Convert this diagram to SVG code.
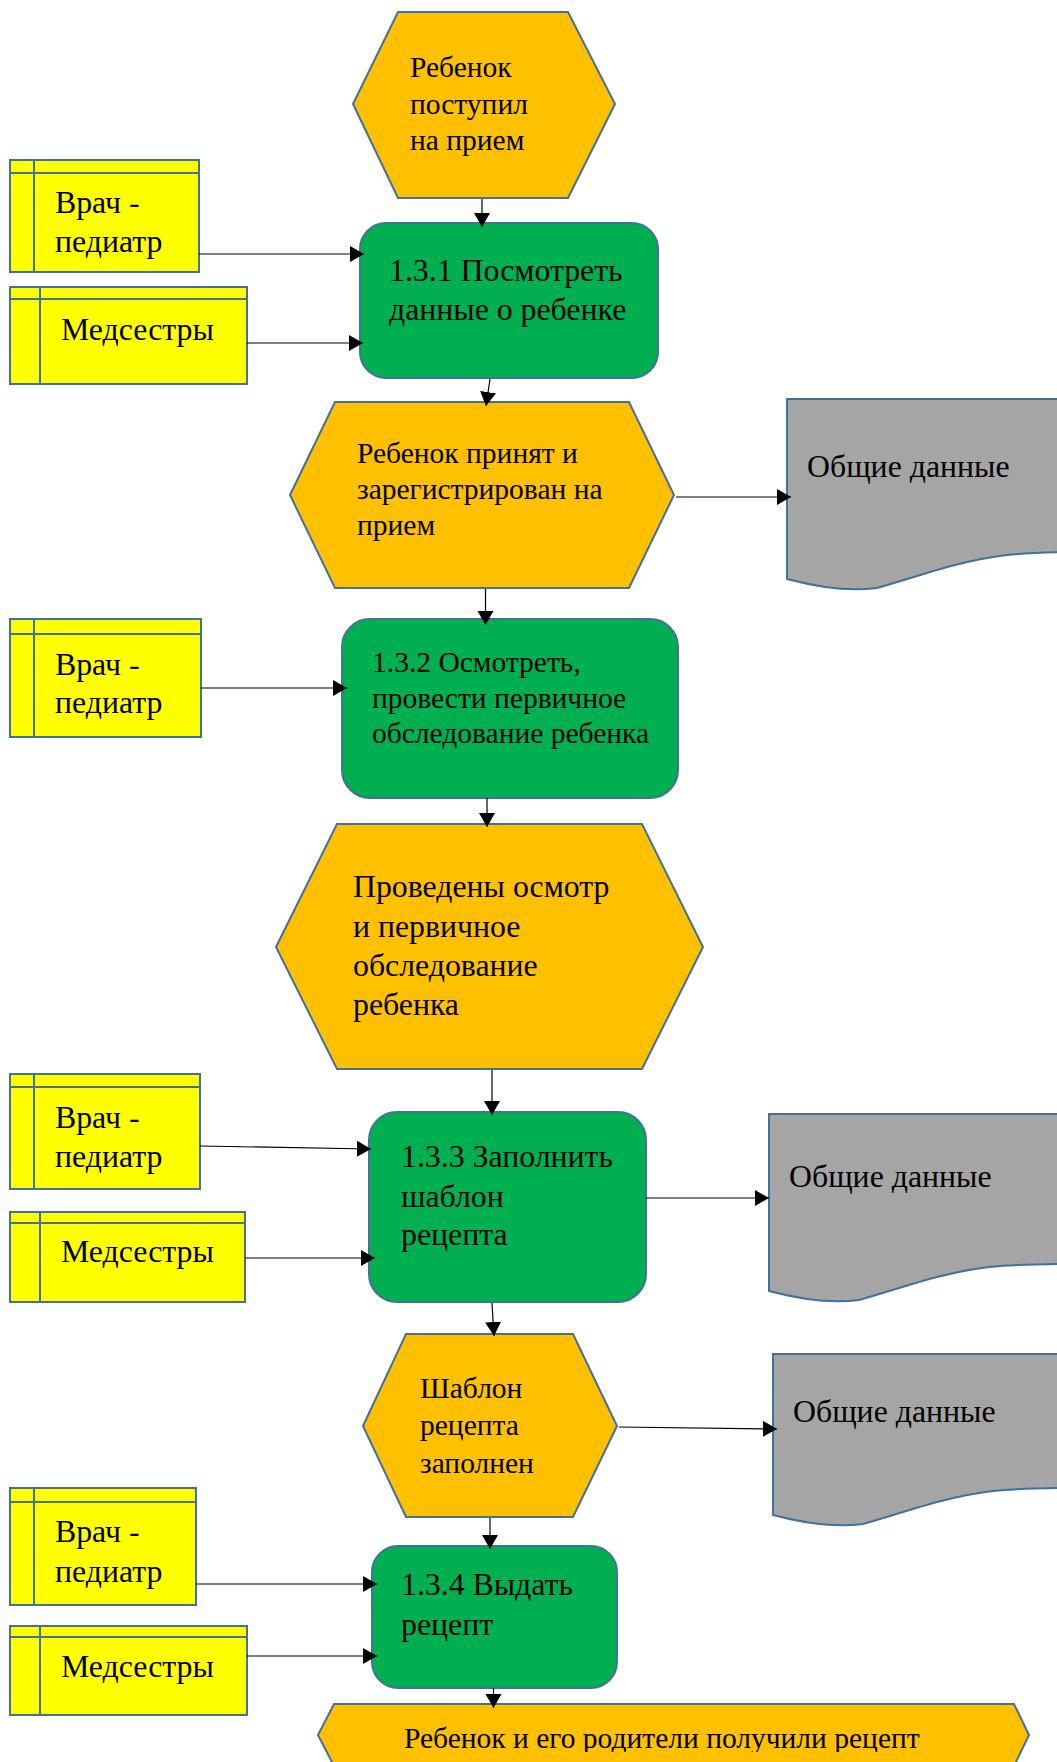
<svg xmlns="http://www.w3.org/2000/svg" width="1057" height="1762" viewBox="0 0 1057 1762">
<style>
.s{stroke:#41719C;stroke-width:2}
.ev{fill:#FFC000}
.fn{fill:#00B050}
.ac{fill:#FFFF00}
.dc{fill:#A5A5A5}
.ln{fill:none;stroke:#41719C;stroke-width:2}
text{font-family:"Liberation Serif","Times New Roman",serif;fill:#000}
.sm{font-size:29.5px}
.lg{font-size:31.8px}
.cn line{stroke:#000;stroke-width:1.2;marker-end:url(#ah)}
</style>
<defs>
<marker id="ah" markerUnits="userSpaceOnUse" markerWidth="16" markerHeight="18" refX="14" refY="8" orient="auto">
<path d="M0,0 L14,8 L0,16 Z" fill="#000"/>
</marker>
<clipPath id="c5"><rect x="300" y="1700" width="757" height="52"/></clipPath>
</defs>

<g id="ev1">
<polygon class="ev s" points="353,104 398,12 568,12 615,104 568,198 398,198"/>
<text class="sm" x="410" y="77">Ребенок</text>
<text class="sm" x="410" y="114">поступил</text>
<text class="sm" x="410" y="150">на прием</text>
</g>

<g id="actor1">
<rect class="ac s" x="10" y="160" width="189" height="112"/>
<path class="ln" d="M10,173 H199 M34,160 V272"/>
<text class="lg" x="55" y="213">Врач -</text>
<text class="lg" x="55" y="252">педиатр</text>
</g>

<g id="actor2">
<rect class="ac s" x="10" y="287" width="237" height="97"/>
<path class="ln" d="M10,299 H247 M40,287 V384"/>
<text class="lg" x="61" y="340">Медсестры</text>
</g>

<g id="fn1">
<rect class="fn s" x="360" y="223" width="298" height="155" rx="26"/>
<text class="lg" x="389" y="281">1.3.1 Посмотреть</text>
<text class="lg" x="389" y="320">данные о ребенке</text>
</g>

<g id="ev2">
<polygon class="ev s" points="290,495 335,402 629,402 674,495 629,588 335,588"/>
<text class="sm" x="357" y="463">Ребенок принят и</text>
<text class="sm" x="357" y="499">зарегистрирован на</text>
<text class="sm" x="357" y="535">прием</text>
</g>

<g id="doc1">
<path class="dc s" transform="translate(787,579)" d="M0,0 L0,-180 L320,-180 L320,-27 L300,-27 C280,-27 250,-27 220,-24 C170,-18 130,-2 90,9 C60,13 30,8 0,0 Z"/>
<text class="lg" x="807" y="477">Общие данные</text>
</g>

<g id="actor3">
<rect class="ac s" x="10" y="619" width="191" height="118"/>
<path class="ln" d="M10,634 H201 M34,619 V737"/>
<text class="lg" x="55" y="675">Врач -</text>
<text class="lg" x="55" y="713">педиатр</text>
</g>

<g id="fn2">
<rect class="fn s" x="342" y="619" width="336" height="179" rx="28"/>
<text class="sm" x="372" y="672">1.3.2 Осмотреть,</text>
<text class="sm" x="372" y="708">провести первичное</text>
<text class="sm" x="372" y="743">обследование ребенка</text>
</g>

<g id="ev3">
<polygon class="ev s" points="276,947 337,824 642,824 703,947 642,1069 337,1069"/>
<text class="lg" x="353" y="897">Проведены осмотр</text>
<text class="lg" x="353" y="937">и первичное</text>
<text class="lg" x="353" y="976">обследование</text>
<text class="lg" x="353" y="1015">ребенка</text>
</g>

<g id="actor4">
<rect class="ac s" x="10" y="1074" width="190" height="115"/>
<path class="ln" d="M10,1087 H200 M34,1074 V1189"/>
<text class="lg" x="55" y="1128">Врач -</text>
<text class="lg" x="55" y="1167">педиатр</text>
</g>

<g id="actor5">
<rect class="ac s" x="10" y="1212" width="235" height="90"/>
<path class="ln" d="M10,1223 H245 M40,1212 V1302"/>
<text class="lg" x="61" y="1262">Медсестры</text>
</g>

<g id="fn3">
<rect class="fn s" x="369" y="1112" width="277" height="190" rx="28"/>
<text class="lg" x="401" y="1167">1.3.3 Заполнить</text>
<text class="lg" x="401" y="1207">шаблон</text>
<text class="lg" x="401" y="1245">рецепта</text>
</g>

<g id="doc2">
<path class="dc s" transform="translate(769,1291)" d="M0,0 L0,-177 L320,-177 L320,-27 L300,-27 C280,-27 250,-27 220,-24 C170,-18 130,-2 90,9 C60,13 30,8 0,0 Z"/>
<text class="lg" x="789" y="1187">Общие данные</text>
</g>

<g id="ev4">
<polygon class="ev s" points="363,1426 406,1334 573,1334 617,1426 573,1517 406,1517"/>
<text class="sm" x="420" y="1398">Шаблон</text>
<text class="sm" x="420" y="1435">рецепта</text>
<text class="sm" x="420" y="1473">заполнен</text>
</g>

<g id="doc3">
<path class="dc s" transform="translate(773,1515)" d="M0,0 L0,-161 L320,-161 L320,-27 L300,-27 C280,-27 250,-27 220,-24 C170,-18 130,-2 90,9 C60,13 30,8 0,0 Z"/>
<text class="lg" x="793" y="1422">Общие данные</text>
</g>

<g id="actor6">
<rect class="ac s" x="10" y="1488" width="186" height="117"/>
<path class="ln" d="M10,1502 H196 M34,1488 V1605"/>
<text class="lg" x="55" y="1542">Врач -</text>
<text class="lg" x="55" y="1582">педиатр</text>
</g>

<g id="actor7">
<rect class="ac s" x="10" y="1626" width="237" height="89"/>
<path class="ln" d="M10,1637 H247 M40,1626 V1715"/>
<text class="lg" x="61" y="1677">Медсестры</text>
</g>

<g id="fn4">
<rect class="fn s" x="372" y="1546" width="245" height="142" rx="26"/>
<text class="lg" x="401" y="1595">1.3.4 Выдать</text>
<text class="lg" x="401" y="1635">рецепт</text>
</g>

<g id="ev5">
<polygon class="ev s" points="318,1735 334,1704 1014,1704 1029,1735 1014,1766 334,1766"/>
<text class="sm" x="404" y="1748" clip-path="url(#c5)">Ребенок и его родители получили рецепт</text>
</g>

<g id="connectors" class="cn">
<line x1="482" y1="199" x2="482" y2="227"/>
<line x1="199" y1="254" x2="364" y2="254"/>
<line x1="247" y1="343" x2="363" y2="343"/>
<line x1="490" y1="379" x2="486" y2="406"/>
<line x1="676" y1="497" x2="791" y2="497"/>
<line x1="485.5" y1="589" x2="485.5" y2="625"/>
<line x1="201" y1="688" x2="347" y2="688"/>
<line x1="487" y1="798" x2="487" y2="827"/>
<line x1="492" y1="1070" x2="492" y2="1115"/>
<line x1="200" y1="1146" x2="371" y2="1149"/>
<line x1="245" y1="1258" x2="375" y2="1258"/>
<line x1="646" y1="1198" x2="769" y2="1198"/>
<line x1="492" y1="1303" x2="494" y2="1336"/>
<line x1="619" y1="1427" x2="777" y2="1429"/>
<line x1="490" y1="1518" x2="490" y2="1549"/>
<line x1="196" y1="1584" x2="377" y2="1584"/>
<line x1="247" y1="1656" x2="377" y2="1656"/>
<line x1="493.5" y1="1688" x2="493.5" y2="1708"/>
</g>
</svg>
